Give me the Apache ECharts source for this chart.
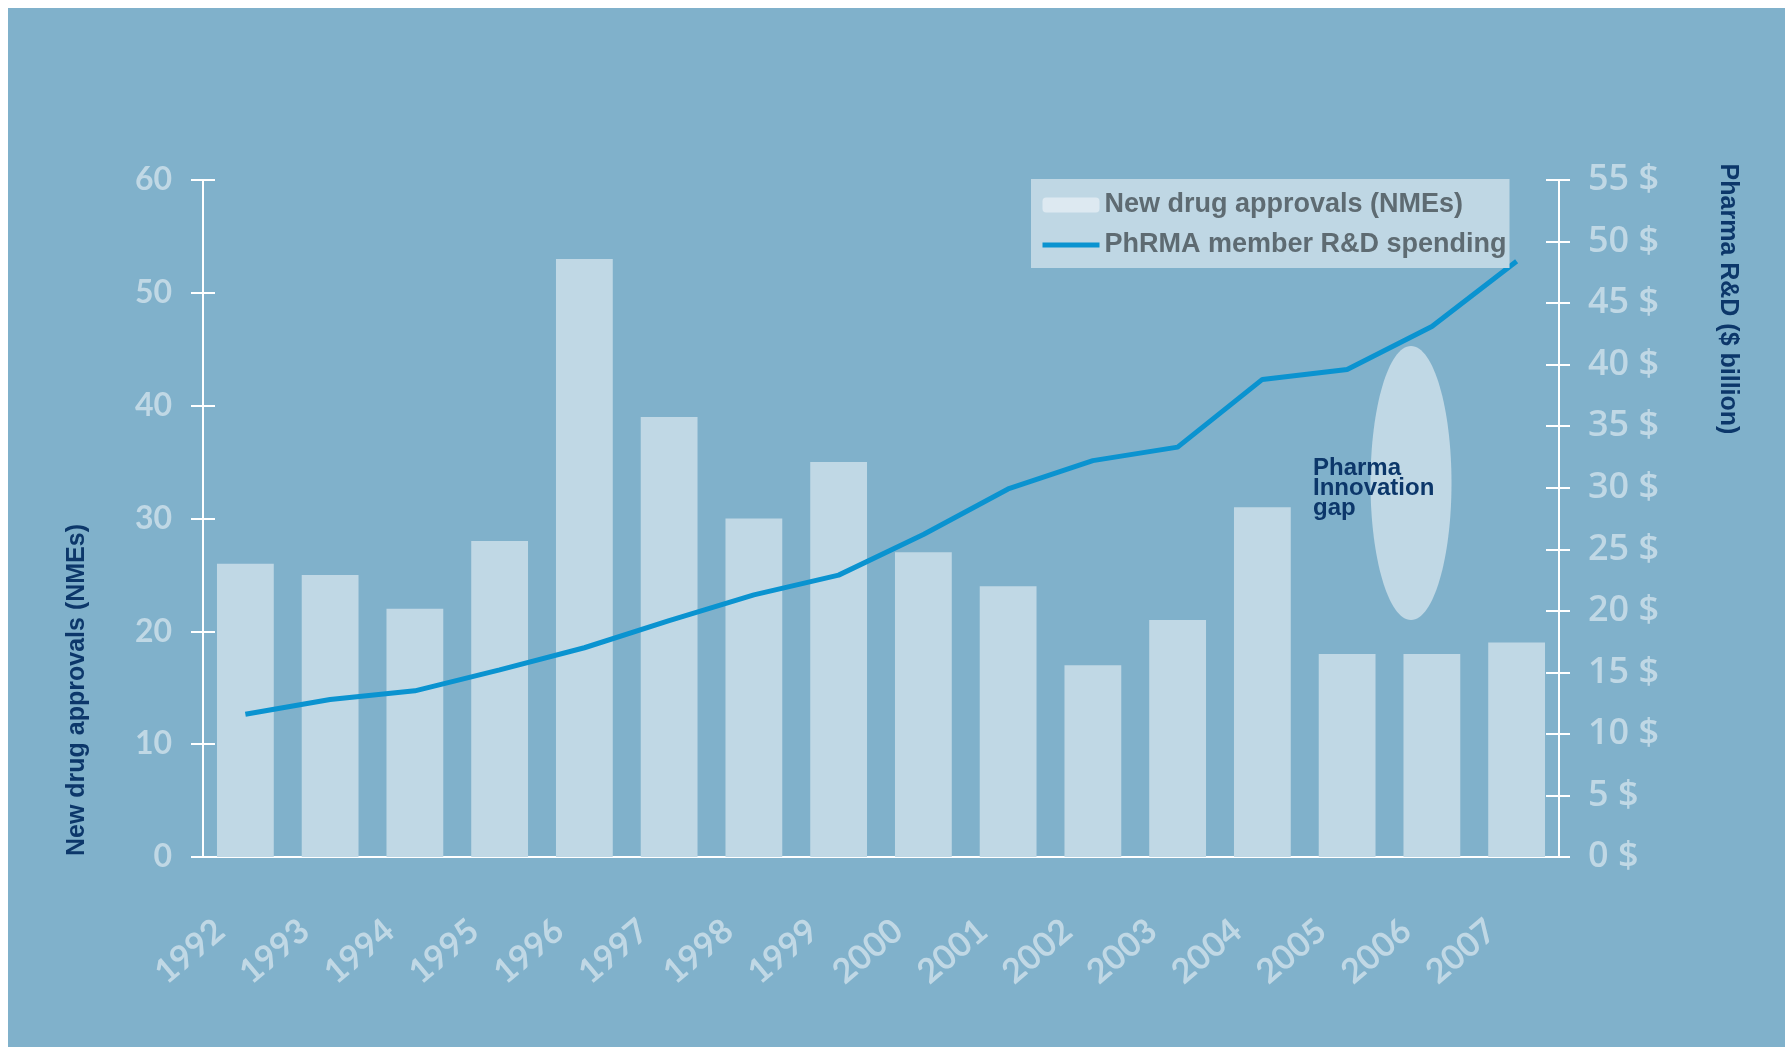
<!DOCTYPE html>
<html>
<head>
<meta charset="utf-8">
<title>New drug approvals and PhRMA R&amp;D spending</title>
<script src="https://cdn.jsdelivr.net/npm/echarts@6/dist/echarts.min.js"></script>
<style>
  html, body { margin: 0; padding: 0; background: #ffffff; }
  #chart { position: absolute; left: 8px; top: 8px; width: 1777px; height: 1039px; background: #80b1cb; }
</style>
</head>
<body>
<div id="chart"></div>
<script>
// data
const years = ['1992', '1993', '1994', '1995', '1996', '1997', '1998', '1999',
  '2000', '2001', '2002', '2003', '2004', '2005', '2006', '2007']
const approvals = [26, 25, 22, 28, 53, 39, 30, 35, 27, 24, 17, 21, 31, 18, 18, 19]
const rdSpending = [11.6, 12.8, 13.5, 15.2, 17.0, 19.2, 21.3, 22.9, 26.2, 29.9, 32.2, 33.3, 38.8, 39.6, 43.1, 48.4]

// axis ranges (tick labels come from these)
const approvalsAxis = { min: 0, max: 60, interval: 10 }
const spendingAxis = { min: 0, max: 55, interval: 5 }

const barName = 'New drug approvals (NMEs)'
const lineName = 'PhRMA member R&D spending'

const pale = '#c0d8e5'
const navy = '#0c376a'
const lineBlue = '#0a93d0'
const white = '#ffffff'

const chart = echarts.init(document.getElementById('chart'))

const tickStyle = { color: white, width: 2 }

const option = {
  animation: false,
  grid: {
    left: 195,
    right: 226,
    top: 172,
    bottom: 190,
  },
  legend: {
    orient: 'vertical',
    left: 1023,
    top: 171,
    padding: [12, 0, 9, 9],
    itemWidth: 57,
    itemHeight: 15,
    itemGap: 12,
    backgroundColor: '#bfd7e4',
    textStyle: {
      color: '#5e6b72',
      fontFamily: 'Liberation Sans',
      fontWeight: 'bold',
      fontSize: 27,
      lineHeight: 28,
      width: 405,
    },
    data: [
      { name: barName, itemStyle: { color: '#dde9f1' } },
      { name: lineName, itemStyle: { opacity: 0 }, lineStyle: { width: 5 } },
    ],
  },
  xAxis: [
    {
      type: 'category',
      data: years,
      position: 'bottom',
      axisLine: { onZero: false, lineStyle: tickStyle },
      axisTick: { length: 13, lineStyle: tickStyle },
      axisLabel: {
        interval: 0,
        rotate: 40,
        margin: 48,
        padding: [0, 33, 0, 0],
        color: pale,
        fontFamily: 'Lato',
        fontWeight: 'bold',
        fontSize: 34,
      },
    },
    {
      // second copy only to draw the inner half of the ticks
      type: 'category',
      data: years,
      position: 'bottom',
      axisLine: { show: false, onZero: false },
      axisTick: { inside: true, length: 11, lineStyle: tickStyle },
      axisLabel: { show: false },
    },
  ],
  yAxis: [
    {
      type: 'value',
      position: 'left',
      ...approvalsAxis,
      axisLine: { show: true, lineStyle: tickStyle },
      axisTick: { show: true, length: 12, lineStyle: tickStyle },
      splitLine: { show: false },
      axisLabel: {
        margin: 31,
        color: pale,
        fontFamily: 'Lato',
        fontWeight: 'bold',
        fontSize: 32,
      },
    },
    {
      type: 'value',
      position: 'right',
      ...spendingAxis,
      axisLine: { show: true, lineStyle: tickStyle },
      axisTick: { show: true, length: 11, lineStyle: tickStyle },
      splitLine: { show: false },
      axisLabel: {
        margin: 29,
        formatter: '{value} $',
        color: pale,
        fontFamily: 'Open Sans',
        fontWeight: 600,
        fontSize: 36,
      },
    },
    {
      type: 'value',
      position: 'left',
      ...approvalsAxis,
      axisLine: { show: false },
      axisTick: { show: true, inside: true, length: 12, lineStyle: tickStyle },
      splitLine: { show: false },
      axisLabel: { show: false },
    },
    {
      type: 'value',
      position: 'right',
      ...spendingAxis,
      axisLine: { show: false },
      axisTick: { show: true, inside: true, length: 13, lineStyle: tickStyle },
      splitLine: { show: false },
      axisLabel: { show: false },
    },
  ],
  series: [
    {
      name: barName,
      type: 'bar',
      data: approvals,
      xAxisIndex: 0,
      yAxisIndex: 0,
      barCategoryGap: '33%',
      itemStyle: { color: pale },
    },
    {
      name: lineName,
      type: 'line',
      data: rdSpending,
      xAxisIndex: 0,
      yAxisIndex: 1,
      symbol: 'none',
      z: 3,
      itemStyle: { color: lineBlue },
      lineStyle: { color: lineBlue, width: 5 },
    },
  ],
  graphic: [
    {
      type: 'text',
      x: 69,
      y: 682,
      rotation: Math.PI / 2,
      style: {
        text: 'New drug approvals (NMEs)',
        fill: navy,
        font: 'bold 25px "Liberation Sans", Arial, sans-serif',
        align: 'center',
        verticalAlign: 'middle',
      },
    },
    {
      type: 'text',
      x: 1720,
      y: 291,
      rotation: -Math.PI / 2,
      style: {
        text: 'Pharma R&D ($ billion)',
        fill: navy,
        font: 'bold 25px "Liberation Sans", Arial, sans-serif',
        align: 'center',
        verticalAlign: 'middle',
      },
    },
    {
      type: 'ellipse',
      shape: { cx: 1403, cy: 475, rx: 40.5, ry: 137 },
      style: { fill: pale },
      z: 1,
    },
    {
      type: 'text',
      x: 1305,
      y: 450,
      z: 10,
      style: {
        text: 'Pharma\nInnovation\ngap',
        fill: navy,
        font: 'bold 24px "Liberation Sans", Arial, sans-serif',
        lineHeight: 20,
        verticalAlign: 'top',
      },
    },
  ],
}

chart.setOption(option)
</script>
</body>
</html>
